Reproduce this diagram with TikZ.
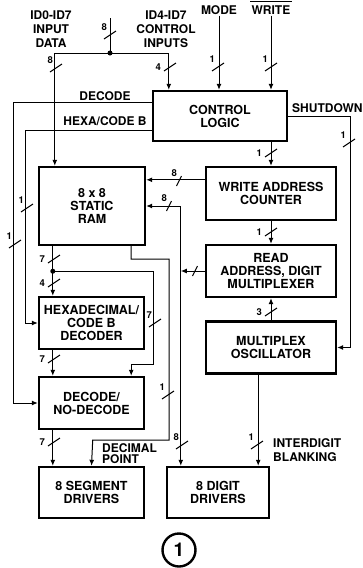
\documentclass[tikz,border=0pt]{standalone}
\usepackage{fontspec}
\setmainfont{TeX Gyre Heros}
\usetikzlibrary{arrows.meta, calc}

\begin{document}
\begin{tikzpicture}[
    x=1pt, y=-1pt,
    every node/.style={font=\bfseries},
    blk/.style={
        rectangle, draw, line width=2.4pt, align=center, inner sep=0pt,
        font=\bfseries\fontsize{12.5}{13}\selectfont,
    },
    bus/.style={line width=1pt},
    arr/.style={bus, -{Latex[length=6pt, width=5pt]}},
    lab/.style={font=\bfseries\fontsize{12}{14}\selectfont, align=center, inner sep=1pt},
    num/.style={font=\bfseries\fontsize{9.5}{10}\selectfont, inner sep=1pt},
    pics/vtick/.style={code={
        \draw[bus] (-6,4) -- (6,-4);
        \node[num, anchor=south east] at (-2,-3) {#1};
    }},
    pics/vtickw/.style={code={
        \draw[bus] (-6,4) -- (6,-4);
        \node[num, anchor=east] at (-8,0) {#1};
    }},
    pics/htick/.style={code={
        \draw[bus] (-2.5,5) -- (2.5,-5);
        \node[num, anchor=south east] at (-1,-3) {#1};
    }},
]
\useasboundingbox (0,0) rectangle (362,568);

% ================================================ blocks
\node[blk, minimum width=134pt, minimum height=50pt] (ctrl) at (220,116) {CONTROL\\LOGIC};
\node[blk, minimum width=106pt, minimum height=78pt] (ram) at (92,206) {8 x 8\\STATIC\\RAM};
\node[blk, minimum width=130pt, minimum height=53pt] (wac) at (271,193.5) {WRITE ADDRESS\\COUNTER};
\node[blk, minimum width=130pt, minimum height=52pt] (rdm) at (271,271) {READ\\ADDRESS, DIGIT\\MULTIPLEXER};
\node[blk, minimum width=130pt, minimum height=52pt] (osc) at (271,347.5) {MULTIPLEX\\OSCILLATOR};
\node[blk, minimum width=105pt, minimum height=52pt] (hex) at (91.5,323) {HEXADECIMAL/\\CODE B\\DECODER};
\node[blk, minimum width=105pt, minimum height=52pt] (dnd) at (91.5,403) {DECODE/\\NO-DECODE};
\node[blk, minimum width=105pt, minimum height=51pt] (seg) at (91.5,492.5) {8 SEGMENT\\DRIVERS};
\node[blk, minimum width=102pt, minimum height=51pt] (dig) at (218,492.5) {8 DIGIT\\DRIVERS};

% ================================================ labels
\node[lab] (din) at (51,29) {ID0-ID7\\INPUT\\DATA};
\node[lab] (cin) at (166,29) {ID4-ID7\\CONTROL\\INPUTS};
\node[lab] (mode) at (219,10) {MODE};
\node[lab] (wr) at (271,10) {WRITE};
\draw[line width=1.2pt] ([yshift=3pt]wr.north west) -- ([yshift=3pt]wr.north east);
\node[lab] (dec) at (105,96) {DECODE};
\node[lab] (hcb) at (105,121.5) {HEXA/CODE B};
\node[lab, anchor=west] (shd) at (291,108.5) {SHUTDOWN};
\node[lab, align=left, anchor=west, font=\bfseries\fontsize{12}{11.5}\selectfont] (dpt) at (101,453.5) {DECIMAL\\POINT};
\node[lab, align=left, anchor=west] (idb) at (272,450) {INTERDIGIT\\BLANKING};

% ================================================ inputs
\coordinate (bus8) at (110,18);
\coordinate (split) at (110,53);
\draw[bus] (bus8) -- (split);
\draw[arr] (split) -| ([xshift=17pt]ram.north west);
\draw[arr] (split) -| ([xshift=17pt]ctrl.north west);
\fill (split) circle (2.5pt);
\draw[arr] (mode.south) -- (mode.south |- ctrl.north);
\draw[arr] (wr.south) -- (wr.south |- ctrl.north);

% ================================================ control lines
\draw[arr] ([yshift=-13pt]ctrl.north west) -| ([xshift=-24pt]dnd.west) -- (dnd.west);
\draw[arr] ([yshift=12pt]ctrl.south west) -| ([xshift=-12pt]hex.west) -- (hex.west);
\draw[arr] (ctrl.east) -| ([xshift=13pt]osc.east) -- (osc.east);
\draw[arr] (ctrl.south -| wac.north) -- (wac.north);

% ================================================ right column
\coordinate (wacq) at ([yshift=-14pt]wac.north west);
\draw[arr] (wacq) -- (wacq -| ram.east);
\draw[arr] (wac.south) -- (rdm.north);
\draw[arr] (osc.north) -- (rdm.south);
\coordinate (dgbl) at ([xshift=-12pt]dig.north east);
\draw[arr] (osc.south -| dgbl) -- (dgbl);

% digit address rail
\coordinate (dgin) at ([xshift=15pt]dig.north west);
\coordinate (rtop) at (dgin |- ram.east);
\draw[arr] (rtop) -- (ram.east);
\draw[arr] (rtop) -- (dgin);
\draw[arr] (rdm.west) -- (rdm.west -| dgin);

% ================================================ left column
\coordinate (ramq) at ([xshift=15pt]ram.south west);
\coordinate (fork) at ([yshift=-25pt]ramq);
\draw[bus] (ramq) -- (fork);
\draw[arr] (fork) -- (fork |- hex.north);
\draw[arr] (fork) -| ++(101,93) -| ([xshift=-14pt]dnd.north east);
\fill (fork) circle (2.5pt);
\draw[arr] ([xshift=-15pt]ram.south east) |- ++(38,13) |- ++(-76.5,181) -- (seg.north);
\draw[arr] ([xshift=15pt]hex.south west) -- ([xshift=15pt]dnd.north west);
\draw[arr] ([xshift=15pt]dnd.south west) -- ([xshift=15pt]seg.north west);

% ================================================ bus widths
\foreach \x/\y/\n in {110/35/8, 56/68/8, 218/67/1, 271/67/1, 349/143/1,
                      27/208/1, 15/244/1, 155/323/7, 168/395/1, 182/445/8, 257/445/1}
    \pic at (\x,\y) {vtick=\n};
\foreach \x/\y/\n in {170/67/4, 271/153/1, 271/232/1, 271/312/3,
                      54/259/7, 54/283/4, 54/359/7, 54/442/7}
    \pic at (\x,\y) {vtickw=\n};
\foreach \x/\y/\n in {179/181/8, 169/206/8, 195/271/}
    \pic at (\x,\y) {htick=\n};

% figure number
\node[circle, draw, line width=2.4pt, minimum size=33pt, inner sep=0pt,
      font=\bfseries\fontsize{19}{19}\selectfont] (fig) at (179,550) {1};

\end{tikzpicture}
\end{document}
